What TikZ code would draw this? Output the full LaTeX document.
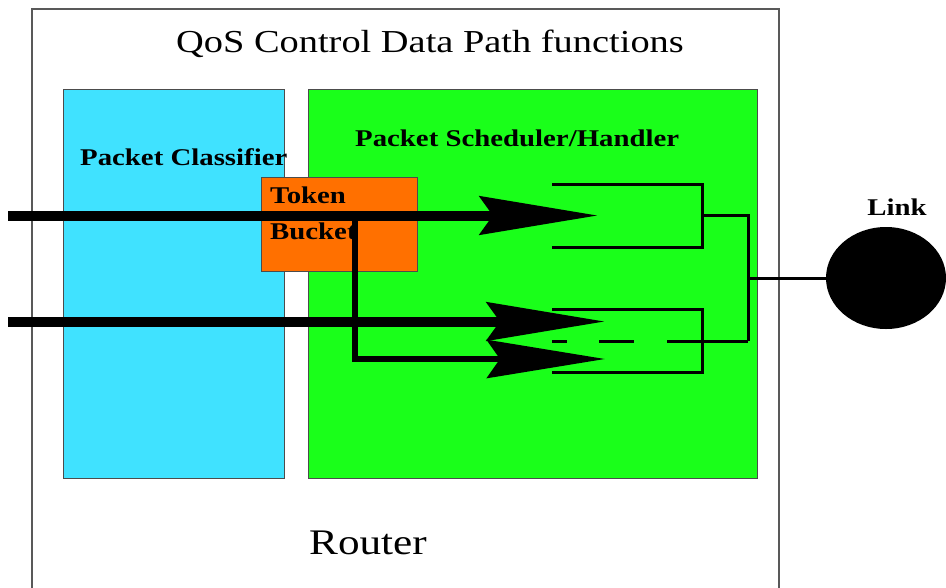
\documentclass[tikz,border=0pt]{standalone}
\usepackage{fontspec}
\setmainfont{Liberation Serif}[FakeStretch=1.2]
\usetikzlibrary{arrows.meta,shapes.geometric}
\definecolor{classcyan}{RGB}{64,226,255}
\definecolor{schedgreen}{RGB}{26,255,26}
\definecolor{tokenorange}{RGB}{255,112,0}
\begin{document}
\begin{tikzpicture}[x=1pt,y=-1pt]
  \def\bx{24}
  \def\qx{552}

\tikzstyle{box}=[draw=black!70,line width=1pt,anchor=north west,inner sep=0pt]
\tikzstyle{label}=[inner sep=0pt,font=\fontsize{\bx}{\bx}\selectfont\bfseries]
\tikzstyle{queue}=[line width=3pt]
\tikzstyle{flow}=[line width=10pt,-{Stealth[length=118pt,width=38pt,inset=13pt]}]
\clip (0,0) rectangle (946,587);
\draw[black!65,line width=1.5pt] (32,9) rectangle (779,600);
\node[inner sep=0pt,anchor=base,font=\fontsize{32}{32}\selectfont] (title) at (430,52) {QoS Control Data Path functions};
\node[inner sep=0pt,anchor=base,font=\fontsize{36}{36}\selectfont] (router) at (368,554) {Router};
\node[box,fill=classcyan,minimum width=221pt,minimum height=389pt] (classifier) at (63,89) {};
\node[box,fill=schedgreen,minimum width=449pt,minimum height=389pt] (scheduler) at (308,89) {};
\node[label,anchor=base west] (classlabel) at (80,165) {Packet Classifier};
\node[label,anchor=base west] (schedlabel) at (355,146) {Packet Scheduler/Handler};
\node[box,fill=tokenorange,minimum width=156pt,minimum height=94pt] (token) at (261,177) {};
\node[label,anchor=base west] (tokenlabel) at (270,203) {Token};
\node[label,anchor=base west] (bucketlabel) at (270,239) {Bucket};
\node[ellipse,fill=black,minimum width=120pt,minimum height=102pt] (link) at (886,278) {};
\node[label,anchor=base] (linklabel) at (897,215) {Link};
\coordinate (q1out) at (702,215);
\coordinate (q2out) at (748,341);
\coordinate (join) at (748,278);
\draw[queue] (\qx,184) -| (702,247) -- (\qx,247);
\draw[queue] (\qx,309) -| (702,372) -- (\qx,372);
\draw[queue,dash pattern=on 15pt off 32pt on 35pt off 33pt on 120pt off 10pt] (\qx,341) -- (q2out);
\draw[queue] (q1out) -| (q2out);
\draw[queue] (join) -- (link.west);
\coordinate (in1) at (8,215.5);
\coordinate (in2) at (8,321.5);
\coordinate (q1in) at (598,215.5);
\coordinate (q2in) at (605,321.5);
\coordinate (q2low) at (605,359);
\coordinate (tap) at (355,211);
\draw[flow] (in1) -- (q1in);
\draw[flow] (in2) -- (q2in);
\draw[flow,line width=6pt] (tap) |- (q2low);
\end{tikzpicture}
\end{document}
